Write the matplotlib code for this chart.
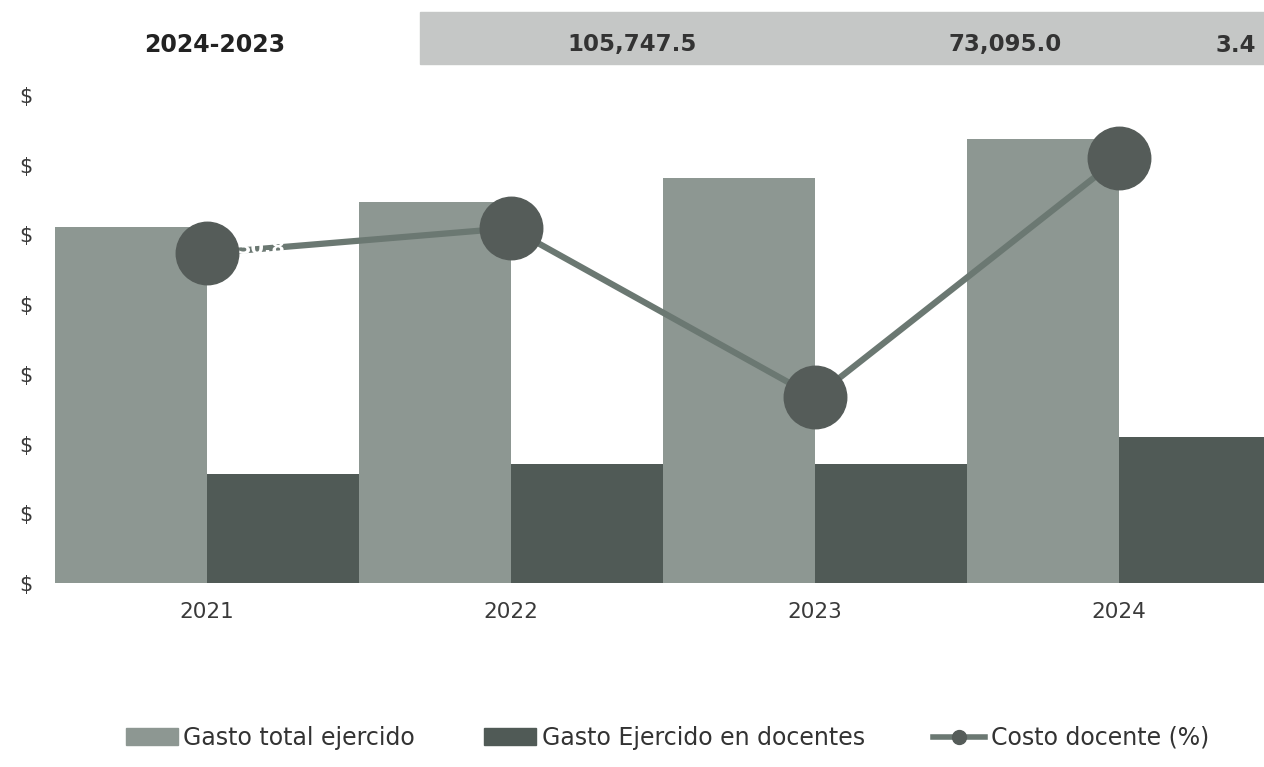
import matplotlib
matplotlib.use("Agg")
import matplotlib.pyplot as plt
from matplotlib.patches import Patch, Rectangle
from matplotlib.lines import Line2D
import numpy as np

plt.rcParams['font.family'] = ['DejaVu Sans']

years = ['2021', '2022', '2023', '2024']
gasto_total = [5.11, 5.47, 5.81, 6.37]        # eje principal (escala sin etiquetas)
gasto_docentes = [1.57, 1.71, 1.70, 2.09]
costo_docente = [30.76, 31.30, 27.68, 32.80]   # eje secundario (%)
y_ticks = np.arange(0, 8)

header_label = '2024-2023'
header_values = ['105,747.5', '73,095.0', '3.4']

c_total = '#8d9792'
c_doc = '#505a56'
c_line = '#6b7872'
c_mark = '#555c59'

fig = plt.figure(figsize=(12.64, 7.67), dpi=100)
ax = fig.add_axes([55 / 1264, 184 / 767, 1 - 55 / 1264, 488 / 767])

x = np.arange(len(years))
ax.bar(x - 0.25, gasto_total, width=0.5, color=c_total, zorder=1)
ax.bar(x + 0.25, gasto_docentes, width=0.5, color=c_doc, zorder=1)
ax.set_xlim(-0.5, 3.477)
ax.set_ylim(0, 7)
ax.set_yticks(y_ticks)
ax.set_yticklabels(['$'] * len(y_ticks))
ax.set_xticks(x)
ax.set_xticklabels(years)
ax.tick_params(axis='y', length=0, pad=16, labelsize=15, colors='#3a3a3a')
ax.tick_params(axis='x', length=0, pad=14, labelsize=15.5, colors='#3a3a3a')
for s in ax.spines.values():
    s.set_visible(False)

ax2 = ax.twinx()
ax2.plot(x, costo_docente, color=c_line, lw=4.5, marker='o', markersize=45,
         markerfacecolor=c_mark, markeredgecolor=c_mark, zorder=3)
ax2.set_ylim(23.7, 34.15)
ax2.set_yticks([])
for s in ax2.spines.values():
    s.set_visible(False)
# etiqueta de dato blanca, apenas visible sobre la línea
ax2.text(0.1, costo_docente[0] + 0.1, '30.8', color='white', fontsize=14,
         fontweight='bold', va='center', ha='left', zorder=4)

# encabezado de la tabla
fig.patches.append(Rectangle((420 / 1264, 1 - 64 / 767), 1 - 420 / 1264, 52 / 767,
                             transform=fig.transFigure, color='#c5c7c6', zorder=0))
hy = 1 - 45 / 767
fig.text(215 / 1264, hy, header_label, ha='center', va='center', fontsize=17,
         fontweight='bold', color='#222222')
fig.text(632 / 1264, hy, header_values[0], ha='center', va='center', fontsize=16.5,
         fontweight='bold', color='#333333')
fig.text(1005 / 1264, hy, header_values[1], ha='center', va='center', fontsize=16.5,
         fontweight='bold', color='#333333')
fig.text(1256 / 1264, hy, header_values[2], ha='right', va='center', fontsize=16.5,
         fontweight='bold', color='#333333')

handles = [Patch(color=c_total, label='Gasto total ejercido'),
           Patch(color=c_doc, label='Gasto Ejercido en docentes'),
           Line2D([], [], color=c_line, lw=4, marker='o', markersize=10,
                  markerfacecolor=c_mark, markeredgecolor=c_mark, label='Costo docente (%)')]
fig.legend(handles=handles, loc='center', bbox_to_anchor=(0.528, 29 / 767), ncol=3,
           frameon=False, fontsize=17, columnspacing=2.9, handlelength=2.2,
           handletextpad=0.25, labelcolor='#333333')

fig.savefig('out.png', dpi=100)
